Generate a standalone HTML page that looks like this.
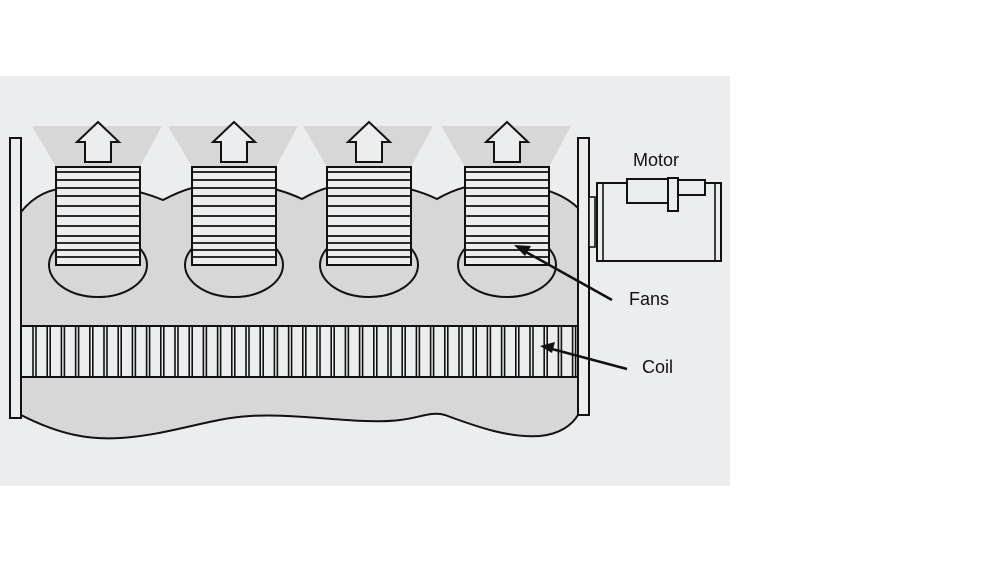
<!DOCTYPE html>
<html><head><meta charset="utf-8"><style>
html,body{margin:0;padding:0;background:#fff;width:1000px;height:562px;overflow:hidden}
svg{display:block}
text{font-family:"Liberation Sans",sans-serif;font-size:18px;fill:#111}
</style></head><body>
<svg id="s" width="1000" height="562" viewBox="0 0 1000 562" xmlns="http://www.w3.org/2000/svg">
<rect x="0" y="76" width="730" height="410" fill="#ecedef"/>
<path d="M21,212 Q40,188 70,188 Q120,182 163,200 Q200,180 234,184 Q270,184 302,199 Q335,180 369,184 Q405,184 437,199 Q470,180 507,184 Q555,186 578,208 L578,415 C572,425 560,434 540,436 C510,438 480,428 445,415 C430,411 420,418 400,420 C360,425 300,413 250,416 C210,418 170,435 120,438 C90,440 60,435 21,415 Z" fill="#d7d7d7" stroke="#111" stroke-width="2"/>
<g id="fans"></g>
<rect x="21" y="326" width="557" height="51" fill="#ecedef" stroke="#111" stroke-width="2"/>
<g id="coil" stroke="#111" stroke-width="1.6"></g>
<rect x="10" y="138" width="11" height="280" fill="#ecedef" stroke="#111" stroke-width="2"/>
<rect x="578" y="138" width="11" height="277" fill="#ecedef" stroke="#111" stroke-width="2"/>
<rect x="589" y="197" width="6" height="50" fill="#ecedef" stroke="#111" stroke-width="1.6"/>
<rect x="597" y="183" width="124" height="78" fill="#ecedef" stroke="#111" stroke-width="2"/>
<line x1="603" y1="183" x2="603" y2="261" stroke="#111" stroke-width="1.6"/>
<line x1="715" y1="183" x2="715" y2="261" stroke="#111" stroke-width="1.6"/>
<rect x="627" y="179" width="41" height="24" fill="#ecedef" stroke="#111" stroke-width="2"/>
<rect x="678" y="180" width="27" height="15" fill="#ecedef" stroke="#111" stroke-width="2"/>
<rect x="668" y="178" width="10" height="33" fill="#ecedef" stroke="#111" stroke-width="2"/>
<text x="633" y="166">Motor</text>
<text x="629" y="305">Fans</text>
<text x="642" y="373">Coil</text>
<line x1="612" y1="300" x2="526" y2="252" stroke="#111" stroke-width="2.5"/>
<polygon points="514,245 531,246 525,256" fill="#111"/>
<line x1="627" y1="369" x2="552" y2="349" stroke="#111" stroke-width="2.5"/>
<polygon points="540,346 555,342 552,353" fill="#111"/>
</svg>
<script>
var ns="http://www.w3.org/2000/svg";
function el(p,t,a){var e=document.createElementNS(ns,t);for(var k in a)e.setAttribute(k,a[k]);p.appendChild(e);return e;}
var f=document.getElementById('fans');
[98,234,369,507].forEach(function(c){
 el(f,'polygon',{points:(c-66)+',126 '+(c+64)+',126 '+(c+42)+',167 '+(c-42)+',167',fill:'#d7d7d7'});
 el(f,'ellipse',{cx:c,cy:265,rx:49,ry:32,fill:'#d7d7d7',stroke:'#111','stroke-width':2});
 el(f,'rect',{x:c-42,y:167,width:84,height:98,fill:'#ecedef',stroke:'#111','stroke-width':2});
 var ys=[172,180,188,196,206,216,226,236,243,250,257];
 ys.forEach(function(y){el(f,'line',{x1:c-42,y1:y,x2:c+42,y2:y,stroke:'#111','stroke-width':1.8});});
 el(f,'polygon',{points:(c-13)+',162 '+(c+13)+',162 '+(c+13)+',142 '+(c+21)+',142 '+c+',122 '+(c-21)+',142 '+(c-13)+',142',fill:'#ecedef',stroke:'#111','stroke-width':2});
});
var g=document.getElementById('coil');
for(var x=33;x<576;x+=14.2){
 el(g,'line',{x1:x,y1:326,x2:x,y2:377});
 el(g,'line',{x1:x+3,y1:326,x2:x+3,y2:377});
}
</script>
</body></html>
